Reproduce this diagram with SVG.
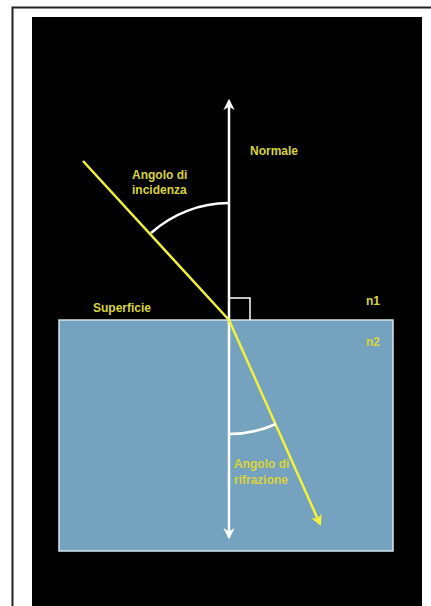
<svg xmlns="http://www.w3.org/2000/svg" width="431" height="606" viewBox="0 0 431 606">
<defs>
<style>
.lbl{font-family:"Liberation Sans",Arial,sans-serif;font-weight:bold;font-size:12px;fill:#d9d43c}
.wline{stroke:#ffffff;stroke-width:2.5;fill:none}
.ray{stroke:#f2f23a;stroke-width:2.5;fill:none}
</style>
<marker id="wh" viewBox="0 0 10 10" refX="8" refY="5" markerWidth="4.5" markerHeight="4.5" orient="auto-start-reverse" markerUnits="strokeWidth">
<path d="M0,0 L10,5 L0,10 L3,5 Z" fill="#ffffff"/>
</marker>
<marker id="yh" viewBox="0 0 10 10" refX="8" refY="5" markerWidth="4.5" markerHeight="4.5" orient="auto" markerUnits="strokeWidth">
<path d="M0,0 L10,5 L0,10 L3,5 Z" fill="#f2f23a"/>
</marker>
</defs>
<rect x="0" y="0" width="431" height="606" fill="#ffffff"/>
<path d="M12.5,606 V7.5 H431" fill="none" stroke="#222222" stroke-width="2"/>
<rect x="32" y="17" width="390" height="589" fill="#000000"/>
<g id="medium2">
<rect x="59" y="320" width="334" height="231" fill="#75a2be" stroke="#d5e5ef" stroke-width="1.5"/>
</g>
<g id="connectors">
<line id="normal" class="wline" x1="229" y1="537" x2="229" y2="101" marker-start="url(#wh)" marker-end="url(#wh)"/>
<path id="rightangle" d="M229,298 H250 V320" fill="none" stroke="#ffffff" stroke-width="1.5"/>
<line id="incident" class="ray" x1="83" y1="161" x2="229" y2="320"/>
<line id="refracted" class="ray" x1="229" y1="320" x2="320" y2="524" marker-end="url(#yh)"/>
<path id="arc-inc" class="wline" d="M229,203 A117,117 0 0 0 151,233"/>
<path id="arc-rif" class="wline" d="M229,434 A114,114 0 0 0 276,424"/>
</g>
<g id="labels">
<text class="lbl" x="132" y="179">Angolo di</text>
<text class="lbl" x="132" y="194">incidenza</text>
<text class="lbl" x="250" y="155">Normale</text>
<text class="lbl" x="93" y="312">Superficie</text>
<text class="lbl" x="366" y="305">n1</text>
<text class="lbl" x="366" y="346">n2</text>
<text class="lbl" x="234" y="468">Angolo di</text>
<text class="lbl" x="234" y="484">rifrazione</text>
</g>
</svg>
